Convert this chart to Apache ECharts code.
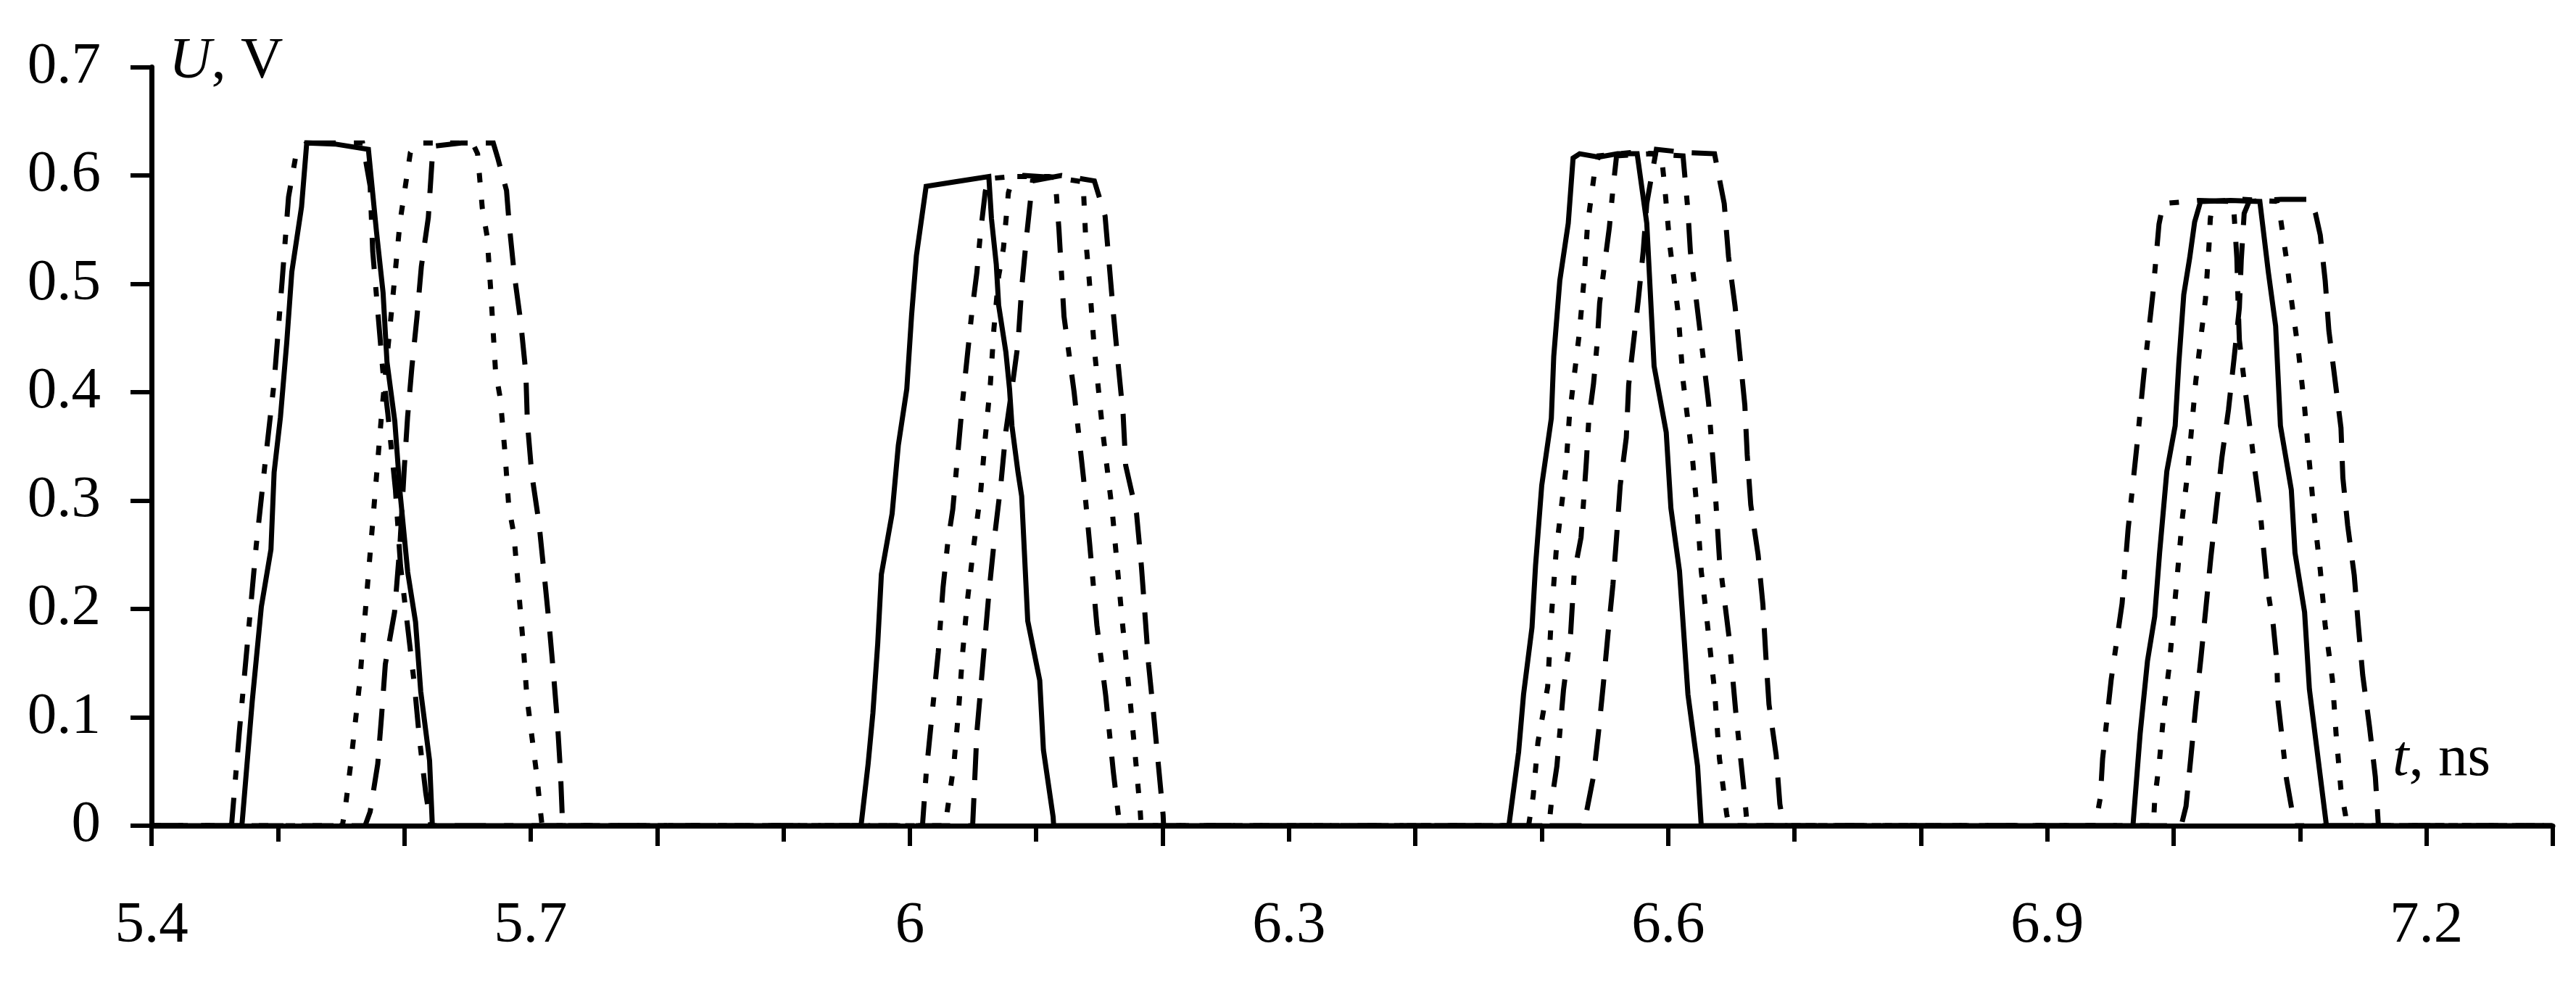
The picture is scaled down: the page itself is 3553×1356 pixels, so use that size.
<!DOCTYPE html>
<html>
<head>
<meta charset="utf-8">
<script src="https://cdn.jsdelivr.net/npm/echarts@6/dist/echarts.min.js"></script>
<style>
html,body{margin:0;padding:0;background:#fff;}
#chart{width:3553px;height:1356px;}
</style>
</head>
<body>
<div id="chart"></div>
<script>
// ---- data: [t (ns), U (V)] ----
const solidPts = [
  [5.4,0],
  [5.4715,0],[5.4797,0.115],[5.4869,0.202],[5.4945,0.255],[5.497,0.326],[5.502,0.377],[5.507,0.446],[5.511,0.511],[5.5187,0.571],[5.5228,0.630],[5.545,0.629],[5.5716,0.624],[5.578,0.548],[5.5832,0.492],[5.5863,0.428],[5.5925,0.373],[5.5966,0.308],[5.6027,0.234],[5.6089,0.188],[5.613,0.124],[5.620,0.060],[5.6222,0],
  [5.9614,0],[5.967,0.057],[5.9708,0.104],[5.9746,0.168],[5.9775,0.232],[5.986,0.288],[5.9909,0.351],[5.9976,0.403],[6.0014,0.471],[6.0052,0.526],[6.0129,0.590],[6.035,0.594],[6.0625,0.599],[6.0646,0.56],[6.0684,0.518],[6.0703,0.48],[6.076,0.437],[6.0789,0.403],[6.0808,0.369],[6.0856,0.326],[6.0885,0.304],[6.0933,0.189],[6.1028,0.134],[6.1057,0.07],[6.1134,0.008],[6.1138,0],
  [6.474,0],[6.4817,0.068],[6.4856,0.121],[6.4923,0.183],[6.4951,0.24],[6.5,0.314],[6.5076,0.376],[6.5095,0.433],[6.5143,0.503],[6.521,0.556],[6.5248,0.616],[6.53,0.62],[6.545,0.617],[6.56,0.62],[6.5755,0.62],[6.5831,0.556],[6.5889,0.424],[6.5985,0.363],[6.6022,0.293],[6.609,0.235],[6.6157,0.121],[6.6233,0.055],[6.6262,0],
  [6.9678,0],[6.9735,0.085],[6.9793,0.152],[6.985,0.193],[6.9889,0.252],[6.9946,0.327],[7.0012,0.369],[7.0041,0.427],[7.008,0.49],[7.0127,0.524],[7.0166,0.557],[7.0213,0.576],[7.045,0.577],[7.0682,0.576],[7.0749,0.511],[7.0807,0.461],[7.0845,0.369],[7.0931,0.31],[7.096,0.252],[7.1036,0.197],[7.1074,0.126],[7.1132,0.072],[7.1209,0],
  [7.3,0]
];
const dashDotPts = [
  [5.4,0],
  [5.4633,0],[5.4695,0.087],[5.4756,0.165],[5.4828,0.258],[5.49,0.336],[5.497,0.409],[5.5033,0.502],[5.5084,0.58],[5.5146,0.621],[5.5228,0.630],[5.567,0.630],[5.573,0.59],[5.575,0.53],[5.579,0.475],[5.583,0.42],[5.587,0.38],[5.593,0.31],[5.597,0.24],[5.603,0.18],[5.608,0.13],[5.612,0.08],[5.617,0.03],[5.621,0],
  [6.010,0],[6.013,0.049],[6.0225,0.16],[6.0263,0.22],[6.0301,0.262],[6.034,0.292],[6.0416,0.39],[6.0492,0.475],[6.053,0.51],[6.056,0.548],[6.0597,0.585],[6.062,0.597],[6.09,0.6],[6.115,0.598],[6.118,0.55],[6.122,0.47],[6.13,0.40],[6.1375,0.32],[6.1423,0.26],[6.148,0.185],[6.155,0.12],[6.161,0.05],[6.166,0],
  [6.5057,0],[6.5075,0.02],[6.512,0.055],[6.5172,0.125],[6.5229,0.178],[6.5257,0.233],[6.5311,0.266],[6.5334,0.304],[6.5353,0.336],[6.5372,0.374],[6.541,0.408],[6.5439,0.446],[6.5458,0.482],[6.5496,0.517],[6.5535,0.552],[6.5563,0.587],[6.5592,0.618],[6.585,0.62],[6.6118,0.618],[6.6157,0.567],[6.6176,0.53],[6.6249,0.46],[6.632,0.39],[6.6367,0.319],[6.6406,0.246],[6.6482,0.174],[6.6536,0.104],[6.6601,0.032],[6.6626,0],
  [6.938,0],[6.942,0.026],[6.9438,0.062],[6.9506,0.135],[6.9592,0.205],[6.964,0.274],[6.9707,0.348],[6.9764,0.416],[6.9835,0.49],[6.9884,0.555],[6.9917,0.574],[7.02,0.577],[7.0472,0.576],[7.05,0.524],[7.051,0.482],[7.052,0.448],[7.0568,0.40],[7.0606,0.365],[7.0644,0.327],[7.0682,0.294],[7.0711,0.256],[7.074,0.221],[7.0788,0.185],[7.0816,0.152],[7.0826,0.114],[7.0861,0.078],[7.0893,0.043],[7.0941,0.011],[7.096,0],
  [7.3,0]
];
const dottedPts = [
  [5.4,0],
  [5.551,0],[5.5535,0.018],[5.5576,0.057],[5.5648,0.133],[5.5682,0.184],[5.576,0.294],[5.5822,0.382],[5.5894,0.469],[5.5966,0.557],[5.6048,0.621],[5.6109,0.630],[5.654,0.630],[5.658,0.62],[5.6617,0.57],[5.6655,0.544],[5.6684,0.494],[5.6722,0.419],[5.676,0.394],[5.6796,0.345],[5.6827,0.294],[5.6867,0.269],[5.6939,0.17],[5.697,0.119],[5.7052,0.043],[5.7073,0.018],[5.709,0],
  [6.028,0],[6.0349,0.057],[6.0387,0.108],[6.0416,0.157],[6.0454,0.206],[6.0502,0.255],[6.056,0.307],[6.0597,0.358],[6.0637,0.407],[6.0665,0.458],[6.0703,0.507],[6.0741,0.533],[6.078,0.584],[6.0818,0.599],[6.11,0.599],[6.1371,0.594],[6.1392,0.541],[6.142,0.503],[6.1459,0.441],[6.1526,0.364],[6.1602,0.29],[6.1679,0.191],[6.1746,0.112],[6.1784,0.064],[6.1823,0.014],[6.183,0],
  [6.4896,0],[6.4932,0.027],[6.497,0.077],[6.5047,0.128],[6.5075,0.191],[6.5114,0.253],[6.519,0.328],[6.5219,0.378],[6.5296,0.453],[6.5334,0.503],[6.5362,0.554],[6.542,0.605],[6.545,0.618],[6.57,0.621],[6.5946,0.62],[6.5975,0.587],[6.6013,0.536],[6.608,0.4725],[6.6118,0.411],[6.6195,0.336],[6.6233,0.286],[6.6262,0.235],[6.631,0.187],[6.6367,0.125],[6.6406,0.062],[6.6463,0.011],[6.648,0],
  [6.984,0],[6.985,0.024],[6.9888,0.06],[6.9926,0.11],[6.9965,0.147],[6.9993,0.185],[7.0032,0.235],[7.007,0.285],[7.0108,0.323],[7.0137,0.36],[7.0175,0.41],[7.0213,0.448],[7.0252,0.486],[7.028,0.536],[7.029,0.56],[7.031,0.576],[7.055,0.578],[7.0816,0.576],[7.0845,0.561],[7.0891,0.524],[7.0931,0.486],[7.0989,0.436],[7.1036,0.386],[7.1074,0.335],[7.1113,0.285],[7.1161,0.235],[7.1199,0.185],[7.1256,0.135],[7.1285,0.085],[7.1323,0.034],[7.1361,0.009],[7.137,0],
  [7.3,0]
];
const dashedPts = [
  [5.4,0],
  [5.569,0],[5.573,0.013],[5.579,0.057],[5.582,0.101],[5.585,0.149],[5.5923,0.197],[5.5966,0.26],[5.6,0.33],[5.6026,0.377],[5.606,0.423],[5.610,0.469],[5.6135,0.516],[5.619,0.561],[5.6227,0.627],[5.645,0.630],[5.6704,0.63],[5.6742,0.615],[5.6809,0.586],[5.683,0.555],[5.687,0.509],[5.6922,0.464],[5.6962,0.417],[5.6974,0.372],[5.7008,0.325],[5.7066,0.279],[5.7106,0.233],[5.7146,0.186],[5.718,0.141],[5.7212,0.095],[5.7236,0.049],[5.7253,0],
  [6.0497,0],[6.0531,0.087],[6.0579,0.151],[6.0626,0.215],[6.0674,0.27],[6.0722,0.317],[6.076,0.364],[6.081,0.405],[6.0856,0.445],[6.0885,0.496],[6.0923,0.543],[6.0971,0.595],[6.12,0.6],[6.146,0.595],[6.1545,0.5625],[6.1612,0.471],[6.165,0.424],[6.1688,0.379],[6.1708,0.3325],[6.1794,0.288],[6.1832,0.24],[6.186,0.196],[6.1889,0.149],[6.1928,0.104],[6.1966,0.057],[6.2004,0.01],[6.2008,0],
  [6.5333,0],[6.541,0.046],[6.5449,0.086],[6.5487,0.13],[6.5525,0.178],[6.5563,0.222],[6.5592,0.266],[6.5621,0.314],[6.5669,0.358],[6.5688,0.407],[6.5726,0.446],[6.5764,0.485],[6.5803,0.53],[6.5831,0.574],[6.587,0.600],[6.5907,0.624],[6.615,0.621],[6.6367,0.62],[6.6444,0.574],[6.6478,0.525],[6.653,0.479],[6.6568,0.434],[6.6607,0.388],[6.6626,0.342],[6.6654,0.296],[6.6712,0.25],[6.675,0.204],[6.6773,0.157],[6.6798,0.112],[6.6855,0.065],[6.6884,0.02],[6.6913,0],
  [7.006,0],[7.0098,0.018],[7.0137,0.064],[7.0175,0.11],[7.0217,0.156],[7.0256,0.202],[7.0294,0.247],[7.0338,0.294],[7.0382,0.34],[7.0434,0.384],[7.0478,0.431],[7.052,0.478],[7.0535,0.522],[7.0558,0.565],[7.0597,0.576],[7.085,0.578],[7.108,0.578],[7.1122,0.565],[7.116,0.545],[7.1199,0.503],[7.1228,0.457],[7.1275,0.413],[7.1324,0.367],[7.1339,0.321],[7.1377,0.277],[7.1429,0.231],[7.1461,0.185],[7.1496,0.139],[7.155,0.091],[7.1596,0.045],[7.162,0],
  [7.3,0]
];
const xTickLabels = ['5.4','5.7','6','6.3','6.6','6.9','7.2'];
const yTickLabels = ['0','0.1','0.2','0.3','0.4','0.5','0.6','0.7'];

// ---- styling ----
const FONT = "'Liberation Serif', 'DejaVu Serif', serif";
const BLACK = '#000';
const LW = 7;

const chart = echarts.init(document.getElementById('chart'), null, {renderer: 'canvas'});

function fmt(v, list) {
  const s = String(Math.round(v * 10) / 10);
  return list.indexOf(s) >= 0 ? s : '';
}

function lineSeries(name, data, dash) {
  return {
    name: name, type: 'line', data: data, xAxisIndex: 0, yAxisIndex: 0,
    showSymbol: false, symbol: 'none', smooth: false, clip: false,
    lineStyle: {color: BLACK, width: LW, type: dash, cap: 'butt', join: 'miter'},
    emphasis: {disabled: true}, z: 3
  };
}

const option = {
  animation: false,
  backgroundColor: '#fff',
  grid: {left: 209, right: 32, top: 92.5, bottom: 217, containLabel: false, outerBoundsMode: 'none'},
  xAxis: [
    {
      type: 'value', min: 5.4, max: 7.3, interval: 0.1, position: 'bottom', gridIndex: 0,
      axisLine: {show: true, onZero: false, lineStyle: {color: BLACK, width: 7}},
      axisTick: {show: true, inside: false, length: 22, lineStyle: {color: BLACK, width: 6}},
      axisLabel: {show: true, margin: 98, color: BLACK, fontFamily: FONT, fontSize: 81,
                  formatter: v => fmt(v, xTickLabels), showMinLabel: true, showMaxLabel: true},
      splitLine: {show: false}
    },
    {
      type: 'value', min: 5.4, max: 7.3, interval: 0.2, position: 'bottom', gridIndex: 0,
      axisLine: {show: false, onZero: false},
      axisTick: {show: true, inside: false, length: 28, lineStyle: {color: BLACK, width: 6}},
      axisLabel: {show: false},
      splitLine: {show: false}
    }
  ],
  yAxis: {
    type: 'value', min: 0, max: 0.7, interval: 0.1, position: 'left',
    axisLine: {show: true, onZero: false, lineStyle: {color: BLACK, width: 7}},
    axisTick: {show: true, inside: false, length: 29, lineStyle: {color: BLACK, width: 6}},
    axisLabel: {show: true, margin: 70, color: BLACK, fontFamily: FONT, fontSize: 81,
                formatter: v => fmt(v, yTickLabels), showMinLabel: true, showMaxLabel: true},
    splitLine: {show: false}
  },
  graphic: [
    {
      type: 'text', x: 233, y: 86, z: 10,
      style: {
        text: '{i|U}, V', fill: BLACK, fontFamily: FONT, fontSize: 81,
        verticalAlign: 'middle', align: 'left',
        rich: {i: {fontStyle: 'italic', fontFamily: FONT, fontSize: 81, fill: BLACK}}
      }
    },
    {
      type: 'text', x: 3300, y: 1048, z: 10,
      style: {
        text: '{i|t}, ns', fill: BLACK, fontFamily: FONT, fontSize: 81,
        verticalAlign: 'middle', align: 'left',
        rich: {i: {fontStyle: 'italic', fontFamily: FONT, fontSize: 81, fill: BLACK}}
      }
    }
  ],
  series: [
    lineSeries('solid', solidPts, 'solid'),
    lineSeries('dashed', dashedPts, [44, 25]),
    lineSeries('dotted', dottedPts, [13, 24]),
    lineSeries('dashdot', dashDotPts, [43, 25, 13, 25])
  ]
};
chart.setOption(option);
</script>
</body>
</html>
